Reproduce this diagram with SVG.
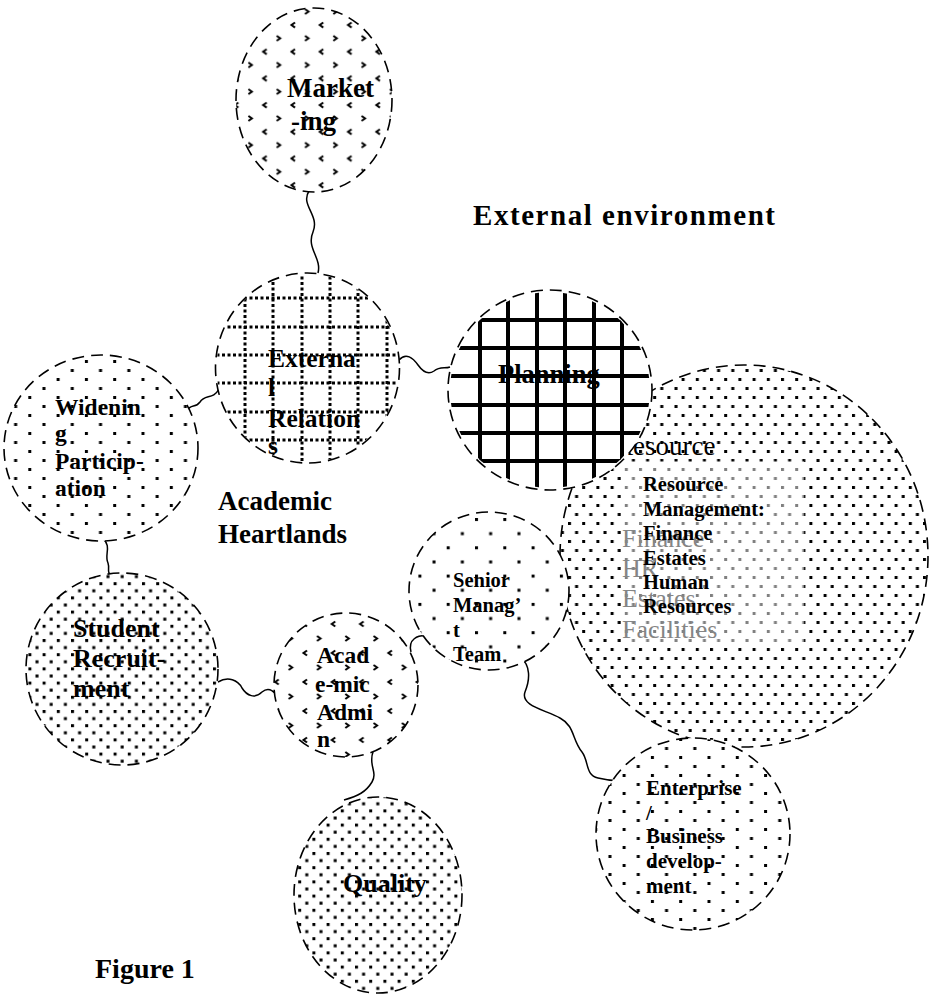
<svg xmlns="http://www.w3.org/2000/svg" width="933" height="994" viewBox="0 0 933 994">
<style>
.c{stroke:#000;stroke-width:1.6;stroke-dasharray:12 7;}
.t{font-family:"Liberation Serif","Times New Roman",serif;font-weight:bold;fill:#000;}
.r{font-family:"Liberation Serif","Times New Roman",serif;font-weight:normal;}
.k{fill:none;stroke:#000;stroke-width:1.5;}
.zz{fill:none;stroke:#000;stroke-width:2;}
</style>
<defs>
<pattern id="zig1" patternUnits="userSpaceOnUse" x="289" y="21" width="28.3" height="26.7">
<rect width="28.3" height="26.7" fill="#fff"/>
<polyline class="zz" points="6,1.5 2.5,4 6,6.5"/>
<polyline class="zz" points="16,14.8 19.5,17.3 16,19.8"/>
</pattern>
<pattern id="zig2" patternUnits="userSpaceOnUse" x="301" y="620" width="28.3" height="29">
<rect width="28.3" height="29" fill="#fff"/>
<polyline class="zz" points="6,1.5 2.5,4 6,6.5"/>
<polyline class="zz" points="16,16 19.5,18.5 16,21"/>
</pattern>
<pattern id="dSparse" patternUnits="userSpaceOnUse" x="475" y="518" width="28.3" height="28.3">
<rect width="28.3" height="28.3" fill="#fff"/>
<rect x="0" y="0" width="3" height="3" fill="#000"/>
<rect x="14.15" y="14.15" width="3" height="3" fill="#000"/>
</pattern>
<pattern id="dMed" patternUnits="userSpaceOnUse" x="0" y="0" width="28.3" height="18">
<rect width="28.3" height="18" fill="#fff"/>
<rect x="0" y="0" width="3" height="3" fill="#000"/>
<rect x="14.15" y="9" width="3" height="3" fill="#000"/>
</pattern>
<pattern id="dRes" patternUnits="userSpaceOnUse" x="0" y="0" width="14.2" height="18">
<rect width="14.2" height="18" fill="#fff"/>
<rect x="0" y="0" width="3" height="3" fill="#000"/>
<rect x="7.1" y="9" width="3" height="3" fill="#000"/>
</pattern>
<pattern id="dDense" patternUnits="userSpaceOnUse" x="0" y="0" width="14.2" height="14.2">
<rect width="14.2" height="14.2" fill="#fff"/>
<rect x="0" y="0" width="3" height="3" fill="#000"/>
<rect x="7.1" y="7.1" width="3" height="3" fill="#000"/>
</pattern>
<clipPath id="clipExt"><ellipse cx="307.5" cy="368" rx="91" ry="94"/></clipPath>
<clipPath id="clipPlan"><ellipse cx="550" cy="390" rx="100" ry="98"/></clipPath>
</defs>
<rect width="933" height="994" fill="#fff"/>

<g id="connectors">
<path class="k" d="M309,191 C300,205 320,215 313,232 C306,248 322,258 318,273"/>
<path class="k" d="M219,389 C213,400 205,394 200,402 C195,409 191,403 187,411"/>
<path class="k" d="M399,360 C406,352 413,358 418,365 C423,372 428,375 434,371 C440,366 445,369 450,367"/>
<path class="k" d="M103,539 C112,546 104,555 108,563 C110,569 106,573 112,575"/>
<path class="k" d="M218,682 C228,676 238,680 242,688 C247,696 255,699 262,692 C268,687 272,690 277,695"/>
<path class="k" d="M411,652 C408,640 416,634 431,636"/>
<path class="k" d="M373,752 C368,765 378,772 372,782 C366,792 358,796 344,800"/>
<path class="k" d="M520,657 C531,665 530,680 525,692 C520,706 546,710 560,718 C575,726 572,740 582,752 C589,761 585,775 598,778 C606,780 612,781 621,781"/>
</g>

<g id="resource">
<ellipse class="c" cx="744" cy="556" rx="184" ry="191" fill="url(#dRes)"/>
<text class="r" x="615" y="455" font-size="27">Resource</text>
<rect x="624" y="461" width="180" height="186" fill="#fff" fill-opacity="0.5"/>
<g class="r" font-size="26" fill="#858585">
<text x="622" y="547">Finance</text>
<text x="622" y="577">HR</text>
<text x="622" y="607">Estates</text>
<text x="622" y="638">Facilities</text>
</g>
<g class="t" font-size="20.5">
<text x="643" y="491">Resource</text>
<text x="643" y="516">Management:</text>
<text x="643" y="540">Finance</text>
<text x="643" y="565">Estates</text>
<text x="643" y="589">Human</text>
<text x="643" y="613">Resources</text>
</g>
</g>

<g id="marketing">
<ellipse class="c" cx="314" cy="100" rx="78" ry="92" fill="url(#zig1)"/>
<text class="t" x="287" y="97" font-size="27">Market</text>
<text class="t" x="291" y="130" font-size="27">-ing</text>
</g>

<g id="external-relations">
<ellipse cx="307.5" cy="368" rx="92" ry="95" fill="#fff"/>
<g clip-path="url(#clipExt)" stroke="#000" stroke-width="3" stroke-dasharray="3 2.5">
<path d="M200,298H420M200,327H420M200,355H420M200,383H420M200,412H420M200,440H420"/>
<path d="M245,260V480M273,260V480M302,260V480M330,260V480M358,260V480M387,260V480"/>
</g>
<ellipse class="c" cx="307.5" cy="368" rx="92" ry="95" fill="none"/>
<g class="t" font-size="25.5">
<text x="268" y="367">Externa</text>
<text x="268" y="396">l</text>
<text x="268" y="427">Relation</text>
<text x="268" y="454">s</text>
</g>
</g>

<g id="planning">
<ellipse cx="550" cy="390" rx="102" ry="100" fill="#fff"/>
<g clip-path="url(#clipPlan)" stroke="#000" stroke-width="4">
<path d="M440,320H660M440,348H660M440,376H660M440,405H660M440,433H660M440,461H660"/>
<path d="M480,280V500M508,280V500M537,280V500M565,280V500M594,280V500M622,280V500"/>
</g>
<ellipse class="c" cx="550" cy="390" rx="102" ry="100" fill="none"/>
<text class="t" x="498" y="383" font-size="26.5">Planning</text>
</g>

<g id="senior-management">
<ellipse class="c" cx="489" cy="591" rx="80" ry="79" fill="url(#dSparse)"/>
<g class="t" font-size="20.5">
<text x="453" y="587">Senior</text>
<text x="453" y="612">Manag’</text>
<text x="453" y="637">t</text>
<text x="453" y="661">Team</text>
</g>
</g>

<g id="widening-participation">
<ellipse class="c" cx="101" cy="448" rx="97" ry="93" fill="url(#dMed)"/>
<g class="t" font-size="23.5">
<text x="55" y="415">Widenin</text>
<text x="55" y="441">g</text>
<text x="55" y="469">Particip-</text>
<text x="55" y="496">ation</text>
</g>
</g>

<g id="student-recruitment">
<ellipse class="c" cx="122" cy="669" rx="96" ry="96" fill="url(#dDense)"/>
<g class="t" font-size="26">
<text x="73" y="637">Student</text>
<text x="73" y="667">Recruit-</text>
<text x="73" y="697">ment</text>
</g>
</g>

<g id="academic-admin">
<ellipse class="c" cx="346" cy="685" rx="72" ry="72" fill="url(#zig2)"/>
<g class="t" font-size="23.5">
<text x="317" y="663">Acad</text>
<text x="315" y="692">e-mic</text>
<text x="317" y="720">Admi</text>
<text x="317" y="747">n</text>
</g>
</g>

<g id="quality">
<ellipse class="c" cx="378" cy="895" rx="84" ry="98" fill="url(#dDense)"/>
<text class="t" x="343" y="892" font-size="26">Quality</text>
</g>

<g id="enterprise">
<ellipse class="c" cx="693" cy="834" rx="97" ry="96" fill="url(#dMed)"/>
<g class="t" font-size="21">
<text x="646" y="795">Enterprise</text>
<text x="646" y="820">/</text>
<text x="646" y="843">Business</text>
<text x="646" y="868">develop-</text>
<text x="646" y="893">ment</text>
</g>
</g>

<g id="labels">
<text class="t" x="473" y="225" font-size="29" textLength="302" lengthAdjust="spacing">External  environment</text>
<text class="t" x="218" y="510" font-size="27">Academic</text>
<text class="t" x="218" y="543" font-size="27">Heartlands</text>
<text class="t" x="95" y="978" font-size="28">Figure 1</text>
</g>
</svg>
